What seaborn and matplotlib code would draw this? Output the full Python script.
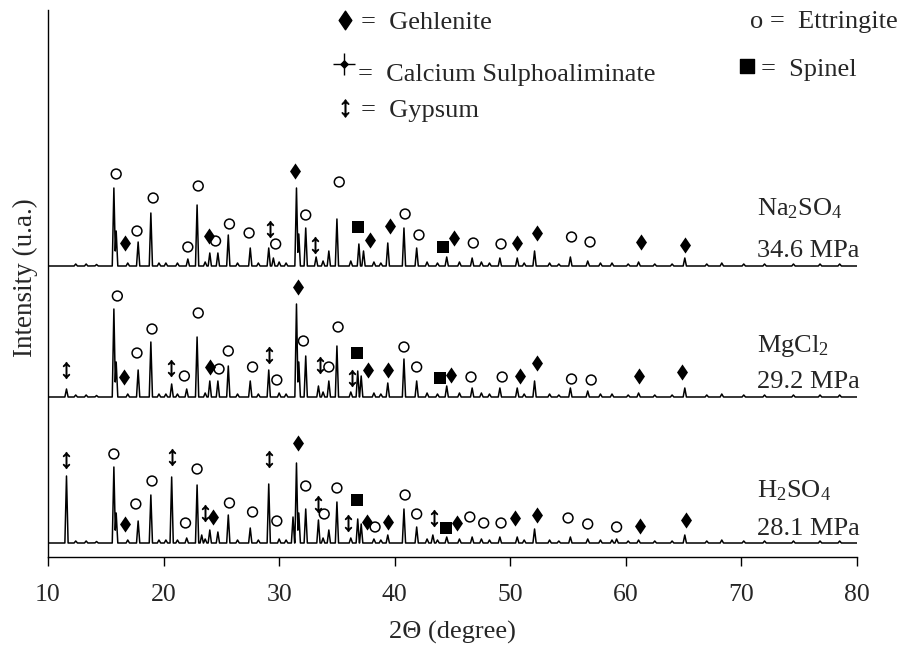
import numpy as np
import pandas as pd
import matplotlib
matplotlib.use("Agg")
import matplotlib.pyplot as plt
import seaborn as sns
from matplotlib.path import Path

# ---------------- data ----------------
sample_labels = ["Na$_2$SO$_4$", "MgCl$_2$", "H$_2$SO$_4$"]
strength_labels = ["34.6 MPa", "29.2 MPa", "28.1 MPa"]
baselines = [291, 160, 14]          # intensity offset of each pattern (a.u.)

na_pos = [15.7, 15.9, 17.8, 18.9, 22.1, 22.9, 24.0, 24.7, 25.6, 27.5, 29.1, 29.5,
          31.5, 31.7, 32.3, 33.2, 34.3, 35.0, 36.9, 37.3, 39.4, 40.8, 41.9, 44.5,
          46.7, 49.1, 50.6, 52.1, 55.2, 56.7, 61.1, 65.1]
na_h = [78, 35, 24, 53, 7, 61, 13, 13, 31, 18, 18, 8,
        78, 32, 38, 9, 15, 47, 22, 15, 23, 38, 18, 9,
        8, 8, 8, 15, 9, 5, 4, 8]

mg_pos = [11.6, 15.7, 15.9, 17.8, 18.9, 20.7, 22.0, 22.9, 24.0, 24.7, 25.6, 27.5,
          29.1, 31.5, 31.7, 32.3, 33.4, 34.3, 35.0, 36.8, 37.1, 39.4, 40.8, 41.9,
          44.5, 46.7, 49.1, 50.6, 52.1, 55.2, 56.7, 61.1, 65.1]
mg_h = [8, 88, 35, 27, 55, 13, 8, 60, 16, 16, 31, 16,
        27, 93, 35, 41, 11, 16, 51, 26, 21, 14, 38, 16,
        11, 9, 9, 9, 16, 9, 6, 4, 9]

h2_pos = [11.6, 15.7, 15.9, 17.8, 18.9, 20.7, 22.0, 22.9, 23.3, 24.0, 24.7, 25.6,
          27.5, 29.1, 31.2, 31.5, 31.7, 32.3, 33.4, 34.3, 35.0, 36.8, 37.1, 39.4,
          40.8, 41.9, 43.3, 44.5, 46.7, 49.1, 50.6, 52.1, 55.2, 56.7, 59.2, 61.1, 65.1]
h2_h = [67, 76, 30, 22, 48, 66, 5, 58, 8, 13, 11, 28,
        15, 59, 26, 80, 30, 34, 23, 13, 41, 24, 19, 8,
        34, 16, 8, 6, 6, 6, 6, 14, 6, 4, 4, 3, 8]

# small background reflections common to all patterns
minor_pos = [12.4, 13.3, 14.2, 16.9, 19.6, 20.2, 21.2, 23.6, 26.4, 28.2, 30.0, 30.6,
             33.8, 36.2, 38.2, 38.8, 42.8, 43.7, 45.6, 47.5, 48.2, 51.2, 53.4, 54.2,
             57.8, 58.8, 60.2, 62.5, 64.0, 67.0, 68.3, 70.2, 72.0, 74.5, 76.8, 78.5]
minor_h = [2, 2, 1.5, 3, 3, 3, 3, 4, 3, 3, 4, 3,
           5, 5, 4, 3, 4, 3, 4, 4, 3, 3, 3, 2,
           3, 3, 2, 2, 2, 2, 3, 2, 2, 2, 2, 2]

# phase markers (2-theta, intensity) for the three patterns
ettringite_x = [15.9, 17.7, 19.1, 22.1, 23.0, 24.5, 25.7, 27.4, 29.7, 32.3, 35.2, 40.9, 42.1, 46.8, 49.2, 55.3, 56.9,
                16.0, 17.7, 19.0, 21.8, 23.0, 24.8, 25.6, 27.7, 29.8, 32.1, 35.1, 34.3, 40.8, 41.9, 46.6, 49.3, 55.3, 57.0,
                15.7, 17.6, 19.0, 21.9, 22.9, 25.7, 27.7, 29.8, 32.3, 33.9, 35.0, 38.3, 40.9, 41.9, 46.5, 47.7, 49.2, 55.0, 56.7, 59.2]
ettringite_y = [383, 326, 359, 310, 371, 316, 333, 324, 313, 342, 375, 343, 322, 314, 313, 320, 315,
                261, 204, 228, 181, 244, 188, 206, 190, 177, 216, 230, 190, 210, 190, 180, 180, 178, 177,
                103, 53, 76, 34, 88, 54, 45, 36, 71, 43, 69, 30, 62, 43, 40, 34, 34, 39, 33, 30]

gehlenite_x = [16.7, 23.9, 31.4, 37.9, 39.6, 45.1, 50.6, 52.3, 61.3, 65.1,
               16.6, 24.0, 31.6, 37.7, 39.4, 44.9, 50.8, 52.3, 61.1, 64.9,
               16.7, 24.3, 31.6, 37.6, 39.4, 45.4, 50.4, 52.3, 61.2, 65.2]
gehlenite_y = [314, 321, 386, 317, 331, 319, 314, 324, 315, 312,
               180, 190, 270, 187, 187, 182, 181, 194, 181, 185,
               33, 40, 114, 35, 35, 34, 39, 42, 31, 37]

gypsum_x = [29.2, 33.1,
            11.6, 20.6, 29.1, 33.5, 36.3,
            11.6, 20.7, 29.1, 23.6, 33.4, 36.0, 43.4]
gypsum_y = [328, 312,
            187, 189, 202, 192, 179,
            97, 100, 98, 44, 53, 34, 39]

spinel_x = [36.8, 44.2, 36.7, 43.9, 36.7, 44.4]
spinel_y = [330, 310, 204, 179, 57, 29]

x_ticks = [10, 20, 30, 40, 50, 60, 70, 80]

# ---------------- style ----------------
sns.set_style("white")
plt.rcParams["font.family"] = ["Liberation Serif", "DejaVu Serif"]
plt.rcParams["mathtext.fontset"] = "custom"
plt.rcParams["mathtext.rm"] = "Liberation Serif"
plt.rcParams["mathtext.it"] = "Liberation Serif:italic"
plt.rcParams["mathtext.bf"] = "Liberation Serif:bold"

fig = plt.figure(figsize=(9.04, 6.45), dpi=100)
ax = fig.add_axes([48 / 904, 1 - 557 / 645, 809 / 904, 547 / 645])

# ---------------- patterns ----------------
grid = np.round(np.arange(10.0, 80.0001, 0.01), 2)
half_width = 0.14


def profile(pos, hts):
    out = np.zeros_like(grid)
    for p, h in zip(pos, hts):
        out = np.maximum(out, h * np.clip(1 - np.abs(grid - p) / half_width, 0, None))
    return out


frames = []
for name, pos, hts, base in zip(["Na2SO4", "MgCl2", "H2SO4"],
                                [na_pos, mg_pos, h2_pos],
                                [na_h, mg_h, h2_h], baselines):
    y = base + np.maximum(profile(pos, hts), profile(minor_pos, minor_h))
    frames.append(pd.DataFrame({"two_theta": grid, "intensity": y, "sample": name}))
df = pd.concat(frames, ignore_index=True)

sns.lineplot(data=df, x="two_theta", y="intensity", units="sample", estimator=None,
             color="black", linewidth=1.1, sort=False, ax=ax)

# ---------------- phase markers ----------------
diamond = Path([(0, 1), (0.68, 0), (0, -1), (-0.68, 0), (0, 1)],
               [Path.MOVETO, Path.LINETO, Path.LINETO, Path.LINETO, Path.CLOSEPOLY])

sns.scatterplot(x=ettringite_x, y=ettringite_y, marker="o", s=50, facecolor="none",
                edgecolor="black", linewidth=1.1, ax=ax, zorder=3)
sns.scatterplot(x=gehlenite_x, y=gehlenite_y, marker=diamond, s=135, color="black",
                edgecolor="black", linewidth=0, ax=ax, zorder=3)
sns.scatterplot(x=gypsum_x, y=gypsum_y, marker=r"$\updownarrow$", s=140, color="black",
                edgecolor="black", linewidth=0.5, ax=ax, zorder=3)
sns.scatterplot(x=spinel_x, y=spinel_y, marker="s", s=80, color="black",
                edgecolor="black", linewidth=0, ax=ax, zorder=3)

# ---------------- sample labels ----------------
label_y = [(342, 300), (205, 169), (60, 22)]
for lab, st, (y1, y2) in zip(sample_labels, strength_labels, label_y):
    ax.text(71.35, y1, lab, fontsize=19, ha="left", va="baseline")
    ax.text(71.35, y2, st, fontsize=19, ha="left", va="baseline")

# ---------------- legend (phase key) ----------------
def fx(px):
    return (px - 48) / 809


def fy(py):
    return (557 - py) / 547


tr = ax.transAxes
leg_fs = 19
ax.scatter([fx(345)], [fy(20)], marker=diamond, s=180, color="black", transform=tr, clip_on=False)
ax.text(fx(361), fy(29), "=  Gehlenite", fontsize=leg_fs, transform=tr, va="baseline")
ax.scatter([fx(344)], [fy(64)], marker="+", s=260, color="black", linewidth=1.0,
           transform=tr, clip_on=False)
ax.scatter([fx(344)], [fy(64)], marker="D", s=22, color="black", linewidth=0,
           transform=tr, clip_on=False)
ax.text(fx(358), fy(81), "=  Calcium Sulphoaliminate", fontsize=leg_fs, transform=tr, va="baseline")
ax.scatter([fx(345)], [fy(108)], marker=r"$\updownarrow$", s=160, color="black", linewidth=0.5,
           transform=tr, clip_on=False)
ax.text(fx(361), fy(117), "=  Gypsum", fontsize=leg_fs, transform=tr, va="baseline")
ax.text(fx(750), fy(28), "o =  Ettringite", fontsize=leg_fs, transform=tr, va="baseline")
ax.scatter([fx(747)], [fy(66)], marker="s", s=115, color="black", transform=tr, clip_on=False)
ax.text(fx(761), fy(76), "=  Spinel", fontsize=leg_fs, transform=tr, va="baseline")

# ---------------- axes ----------------
ax.set_xlim(10, 80)
ax.set_ylim(0, 547)
ax.set_xticks(x_ticks)
ax.set_xticklabels([str(t) for t in x_ticks])
ax.set_yticks([])
ax.tick_params(axis="x", direction="out", length=6.5, width=1.0, color="black",
               labelsize=18.5, pad=13, bottom=True)
for side in ["top", "right"]:
    ax.spines[side].set_visible(False)
for side in ["left", "bottom"]:
    ax.spines[side].set_color("black")
    ax.spines[side].set_linewidth(1.0)

ax.set_xlabel("2\u0398 (degree)", fontsize=19, labelpad=11)
ax.set_ylabel("Intensity (u.a.)", fontsize=19.5)
ax.yaxis.set_label_coords(fx(38), 0.51)

fig.savefig("out.png", dpi=100)
